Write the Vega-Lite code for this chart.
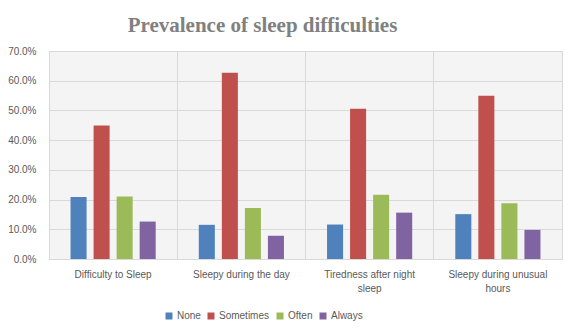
{
  "$schema": "https://vega.github.io/schema/vega-lite/v6.json",
  "width": 513,
  "height": 208,
  "autosize": {"type": "none"},
  "padding": {"left": 49, "top": 51, "right": 14, "bottom": 77},
  "background": "white",
  "title": {
    "text": "Prevalence of sleep difficulties",
    "font": "Liberation Serif",
    "fontSize": 21,
    "fontWeight": "bold",
    "color": "#808080",
    "anchor": "middle",
    "frame": "group",
    "dx": -43,
    "offset": 10
  },
  "data": {
    "values": [
      {"item": "Difficulty to Sleep", "response": "None", "share": 0.209},
      {"item": "Difficulty to Sleep", "response": "Sometimes", "share": 0.449},
      {"item": "Difficulty to Sleep", "response": "Often", "share": 0.210},
      {"item": "Difficulty to Sleep", "response": "Always", "share": 0.126},
      {"item": "Sleepy during the day", "response": "None", "share": 0.115},
      {"item": "Sleepy during the day", "response": "Sometimes", "share": 0.627},
      {"item": "Sleepy during the day", "response": "Often", "share": 0.172},
      {"item": "Sleepy during the day", "response": "Always", "share": 0.078},
      {"item": "Tiredness after night sleep", "response": "None", "share": 0.116},
      {"item": "Tiredness after night sleep", "response": "Sometimes", "share": 0.506},
      {"item": "Tiredness after night sleep", "response": "Often", "share": 0.216},
      {"item": "Tiredness after night sleep", "response": "Always", "share": 0.156},
      {"item": "Sleepy during unusual hours", "response": "None", "share": 0.151},
      {"item": "Sleepy during unusual hours", "response": "Sometimes", "share": 0.549},
      {"item": "Sleepy during unusual hours", "response": "Often", "share": 0.188},
      {"item": "Sleepy during unusual hours", "response": "Always", "share": 0.098}
    ]
  },
  "mark": {"type": "bar"},
  "encoding": {
    "x": {
      "field": "item",
      "type": "nominal",
      "sort": null,
      "scale": {"paddingInner": 0, "paddingOuter": 0},
      "axis": {
        "title": null,
        "labelAngle": 0,
        "labelFont": "Liberation Sans",
        "labelFontSize": 10,
        "labelColor": "#595959",
        "labelPadding": 10,
        "labelLineHeight": 14,
        "labelBaseline": "top",
        "ticks": false,
        "domainColor": "#d9d9d9",
        "grid": true,
        "gridColor": "#d9d9d9",
        "bandPosition": 0,
        "labelExpr": "datum.value == 'Tiredness after night sleep' ? ['Tiredness after night', 'sleep'] : datum.value == 'Sleepy during unusual hours' ? ['Sleepy during unusual', 'hours'] : datum.value"
      }
    },
    "xOffset": {
      "field": "response",
      "type": "nominal",
      "sort": ["None", "Sometimes", "Often", "Always"],
      "scale": {"paddingInner": 0.304, "paddingOuter": 0.935}
    },
    "y": {
      "field": "share",
      "type": "quantitative",
      "scale": {"domain": [0, 0.7], "nice": false},
      "axis": {
        "title": null,
        "format": ".1%",
        "values": [0, 0.1, 0.2, 0.3, 0.4, 0.5, 0.6, 0.7],
        "labelFont": "Liberation Sans",
        "labelFontSize": 10,
        "labelColor": "#595959",
        "labelPadding": 13,
        "ticks": false,
        "domain": false,
        "grid": true,
        "gridColor": "#d9d9d9"
      }
    },
    "color": {
      "field": "response",
      "type": "nominal",
      "sort": ["None", "Sometimes", "Often", "Always"],
      "scale": {
        "domain": ["None", "Sometimes", "Often", "Always"],
        "range": ["#4f81bd", "#c0504d", "#9bbb59", "#8064a2"]
      },
      "legend": {
        "title": null,
        "orient": "none",
        "direction": "horizontal",
        "legendX": 115,
        "legendY": 260,
        "symbolType": "square",
        "symbolSize": 49,
        "symbolStrokeWidth": 0,
        "labelFont": "Liberation Sans",
        "labelFontSize": 10,
        "labelColor": "#595959",
        "labelOffset": 3,
        "columnPadding": 5
      }
    }
  },
  "config": {
    "view": {"stroke": "#d9d9d9", "fill": "#f4f4f4"}
  }
}
